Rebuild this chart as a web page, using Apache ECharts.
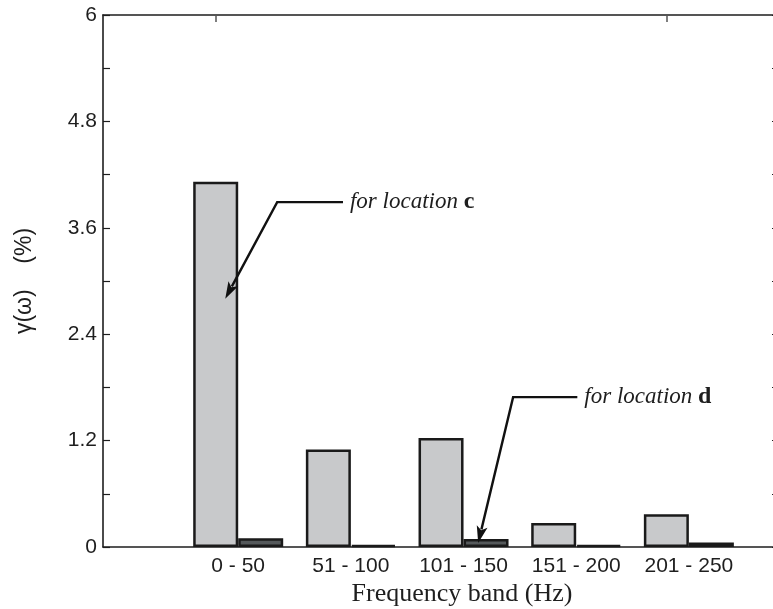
<!DOCTYPE html>
<html><head><meta charset="utf-8">
<script src="https://cdn.jsdelivr.net/npm/echarts@6/dist/echarts.min.js"></script>
<style>html,body{margin:0;padding:0;background:#fff}#c{width:773px;height:609px}</style>
</head><body><div id="c"></div>
<script>
// ---- data ----
const categories = ['0 - 50', '51 - 100', '101 - 150', '151 - 200', '201 - 250'];
const locationC = [4.12, 1.10, 1.23, 0.27, 0.37];
const locationD = [0.10, 0.02, 0.09, 0.02, 0.05];
const groupPositions = [1, 2, 3, 4, 5];
const frameTicks = [0.8, 4.8];
const yMin = 0, yMax = 6, yStep = 1.2;
// annotation anchors in data space
const noteLabels = ['c', 'd'];
const noteTips = [[0.885, 2.80], [3.13, 0.045]];
const noteElbows = [[1.346, 3.89], [3.44, 1.69]];
const noteEnds = [[1.93, 3.89], [4.01, 1.69]];

const ink = '#1e1e1e';
const chart = echarts.init(document.getElementById('c'), null, {renderer: 'canvas'});

function xAxisDef(pos, showLabels) {
  return {
    type: 'value', position: pos, min: -0.2, max: 5.8,
    axisLine: {show: true, onZero: false, lineStyle: {color: ink, width: 1.6}},
    axisTick: {show: true, inside: true, length: 7, customValues: frameTicks, lineStyle: {color: '#555', width: 1.5}},
    axisLabel: showLabels ? {
      show: true, customValues: groupPositions, margin: 9,
      fontFamily: 'Liberation Sans, Arial, sans-serif', fontSize: 21, color: ink,
      formatter: v => categories[Math.round(v) - 1] || ''
    } : {show: false},
    splitLine: {show: false}
  };
}
function yAxisDef(pos, showLabels) {
  return {
    type: 'value', position: pos, min: yMin, max: yMax, interval: yStep,
    axisLine: {show: true, onZero: false, lineStyle: {color: ink, width: 1.6}},
    axisTick: {show: true, inside: true, length: 7, lineStyle: {color: ink, width: 1.2}},
    minorTick: {show: true, splitNumber: 2, length: 7, lineStyle: {color: ink, width: 1.2}},
    axisLabel: showLabels ? {show: true, margin: 6, fontFamily: 'Liberation Sans, Arial, sans-serif', fontSize: 21, color: ink} : {show: false},
    splitLine: {show: false},
    name: showLabels ? 'γ(ω)    (%)' : '',
    nameLocation: 'middle', nameRotate: 90, nameGap: 67,
    nameTextStyle: {fontFamily: 'Liberation Sans, Arial, sans-serif', fontSize: 23, color: ink}
  };
}

chart.setOption({
  animation: false,
  backgroundColor: '#fff',
  grid: {left: 103, top: 15, right: -6, bottom: 62, containLabel: false, outerBoundsMode: 'none'},
  xAxis: [xAxisDef('bottom', true), xAxisDef('top', false)],
  yAxis: [yAxisDef('left', true), yAxisDef('right', false)],
  series: [
    {type: 'bar', name: 'location c', xAxisIndex: 0, yAxisIndex: 0,
     data: locationC.map((v, i) => [groupPositions[i], v]),
     barWidth: 45, barGap: '0%',
     itemStyle: {color: '#c8c9cb', borderColor: '#1a1a1a', borderWidth: 2.5}},
    {type: 'bar', name: 'location d', xAxisIndex: 0, yAxisIndex: 0,
     data: locationD.map((v, i) => [groupPositions[i], v]),
     barWidth: 45, barGap: '0%',
     itemStyle: {color: '#55595b', borderColor: '#1a1a1a', borderWidth: 2.5}}
  ]
});

// annotations
const px = p => chart.convertToPixel({xAxisIndex: 0, yAxisIndex: 0}, p);
const elements = [];
const serif = 'Liberation Serif, Times New Roman, serif';
noteLabels.forEach((lab, k) => {
  const t = px(noteTips[k]), e = px(noteElbows[k]), n = px(noteEnds[k]);
  const dx = t[0] - e[0], dy = t[1] - e[1], len = Math.hypot(dx, dy);
  const ux = dx / len, uy = dy / len, L = 17, W = 5.5;
  const bx = t[0] - ux * L, by = t[1] - uy * L;
  elements.push({type: 'polyline', z: 100, shape: {points: [[n[0], n[1]], [e[0], e[1]], [bx + ux * 3, by + uy * 3]]},
    style: {stroke: '#111', lineWidth: 2.4, fill: null}});
  elements.push({type: 'polygon', z: 100, shape: {points: [[t[0], t[1]], [bx - uy * W, by + ux * W], [bx + ux * 4, by + uy * 4], [bx + uy * W, by - ux * W]]},
    style: {fill: '#111'}});
  elements.push({type: 'text', z: 100, x: n[0] + 7, y: n[1] + 0,
    style: {text: '{i|for location }{b|' + lab + '}', verticalAlign: 'middle', align: 'left',
      rich: {
        i: {fontFamily: serif, fontStyle: 'italic', fontSize: 23, fill: ink, color: ink},
        b: {fontFamily: serif, fontWeight: 'bold', fontSize: 24, fill: ink, color: ink}
      }}});
});
elements.push({type: 'text', z: 100, x: 462, y: 594,
  style: {text: 'Frequency band (Hz)', align: 'center', verticalAlign: 'middle',
    font: '26px "Liberation Serif", "Times New Roman", serif', fill: ink}});
chart.setOption({graphic: {elements}});
</script>
</body></html>
